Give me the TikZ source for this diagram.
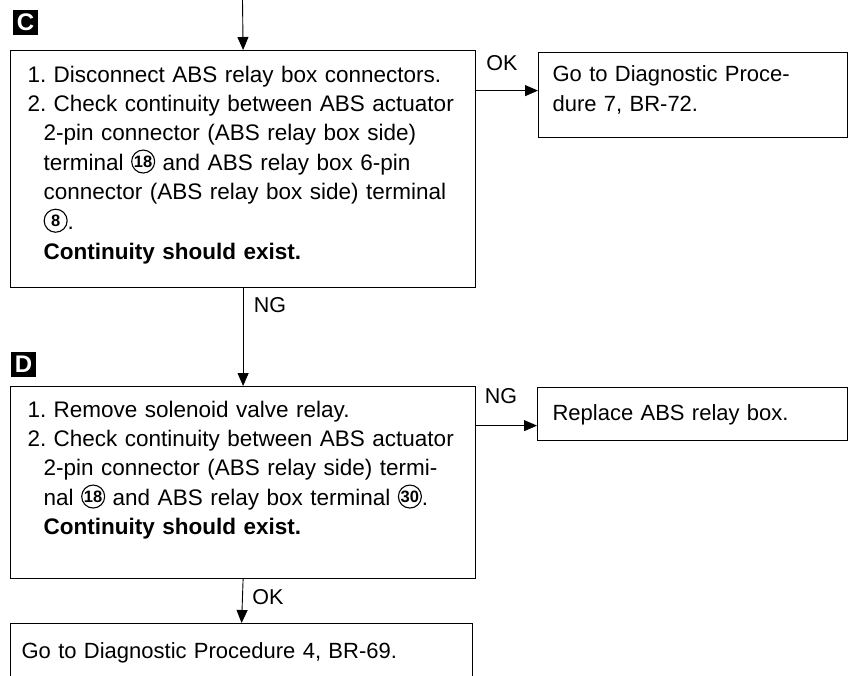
\documentclass[tikz,border=0pt]{standalone}
\usepackage{fontspec}
\setmainfont{Liberation Sans}
\usetikzlibrary{arrows.meta,positioning}

\tikzset{
  box/.style={draw,line width=1.2pt,anchor=north west,inner xsep=14pt,inner ysep=0pt,
    align=left,font=\fontsize{22}{29.5}\selectfont},
  check/.style={box,inner xsep=17pt,text width=431pt,minimum width=465pt,
    font=\fontsize{22.5}{29.3}\selectfont},
  arr/.style={line width=0.9pt,-{Triangle[length=13pt,width=11pt]}},
  lbl/.style={font=\fontsize{21.5}{21.5}\selectfont},
  tag/.style={fill=black,text=white,minimum size=25pt,inner sep=0pt,
    font=\bfseries\fontsize{24}{24}\selectfont}
}
% circled terminal number
\newcommand{\cnum}[1]{\tikz[baseline={([yshift=3pt]cn.south)}]\node[circle,draw,line width=1.1pt,
  inner sep=0pt,minimum size=23pt,font=\bfseries\fontsize{16.5}{16.5}\selectfont] (cn) {#1};}
\newcommand{\itm}[1]{\makebox[26pt][l]{#1}}
\newcommand{\cont}{\hspace*{16pt}}

\begin{document}
\begin{tikzpicture}[x=1pt,y=-1pt]
  \useasboundingbox (0,0) rectangle (856,675);
  \coordinate (entry) at (242.5,0);

  % step C
  \node[tag] (tagC) at (25.5,22.5) {C};
  \node[check,text height=31.5pt,text depth=205.5pt] (chkC) at (10,50) {%
    \begin{tabular}[t]{@{}l@{}}
      \itm{1.}Disconnect ABS relay box connectors.\\
      \itm{2.}Check continuity between ABS actuator\\
      \cont 2-pin connector (ABS relay box side)\\
      \cont terminal \cnum{18} and ABS relay box 6-pin\\
      \cont connector (ABS relay box side) terminal\\
      \cont \cnum{8}.\\
      \cont \textbf{Continuity should exist.}
    \end{tabular}};
  \node[box,minimum width=309pt,text width=281pt,text height=29pt,text depth=56pt] (goC) at (538,52)
    {Go to Diagnostic Proce-\\dure 7, BR-72.};
  \draw[arr] (entry) -- (chkC.north);
  \draw[arr] ([yshift=4.5pt]goC.west -| chkC.east) -- ([yshift=4.5pt]goC.west);
  \node[lbl] (okC) at (502,63) {OK};

  % step D
  \node[tag] (tagD) at (23.5,364.5) {D};
  \node[check,text height=30.5pt,text depth=161.5pt] (chkD) at (10,386) {%
    \begin{tabular}[t]{@{}l@{}}
      \itm{1.}Remove solenoid valve relay.\\
      \itm{2.}Check continuity between ABS actuator\\
      \cont 2-pin connector (ABS relay side) termi-\\
      \cont nal \cnum{18} and ABS relay box terminal \cnum{30}.\\
      \cont \textbf{Continuity should exist.}
    \end{tabular}};
  \node[box,inner xsep=15pt,minimum width=310pt,text width=280pt,text height=33pt,text depth=20pt] (repl) at (537,387)
    {Replace ABS relay box.};
  \draw[arr] (chkC.south) -- (chkD.north);
  \node[lbl] (ngC) at (270,305) {NG};
  \draw[arr] ([yshift=-11.5pt]repl.west -| chkD.east) -- ([yshift=-11.5pt]repl.west);
  \node[lbl] (ngD) at (501,396) {NG};

  % last step
  \node[box,inner xsep=11pt,minimum width=462pt,text width=440pt,text height=35pt,text depth=40pt] (goD) at (10,623)
    {Go to Diagnostic Procedure 4, BR-69.};
  \draw[arr] (chkD.south) -- (goD.north);
  \node[lbl] (okD) at (268,597) {OK};
\end{tikzpicture}
\end{document}
